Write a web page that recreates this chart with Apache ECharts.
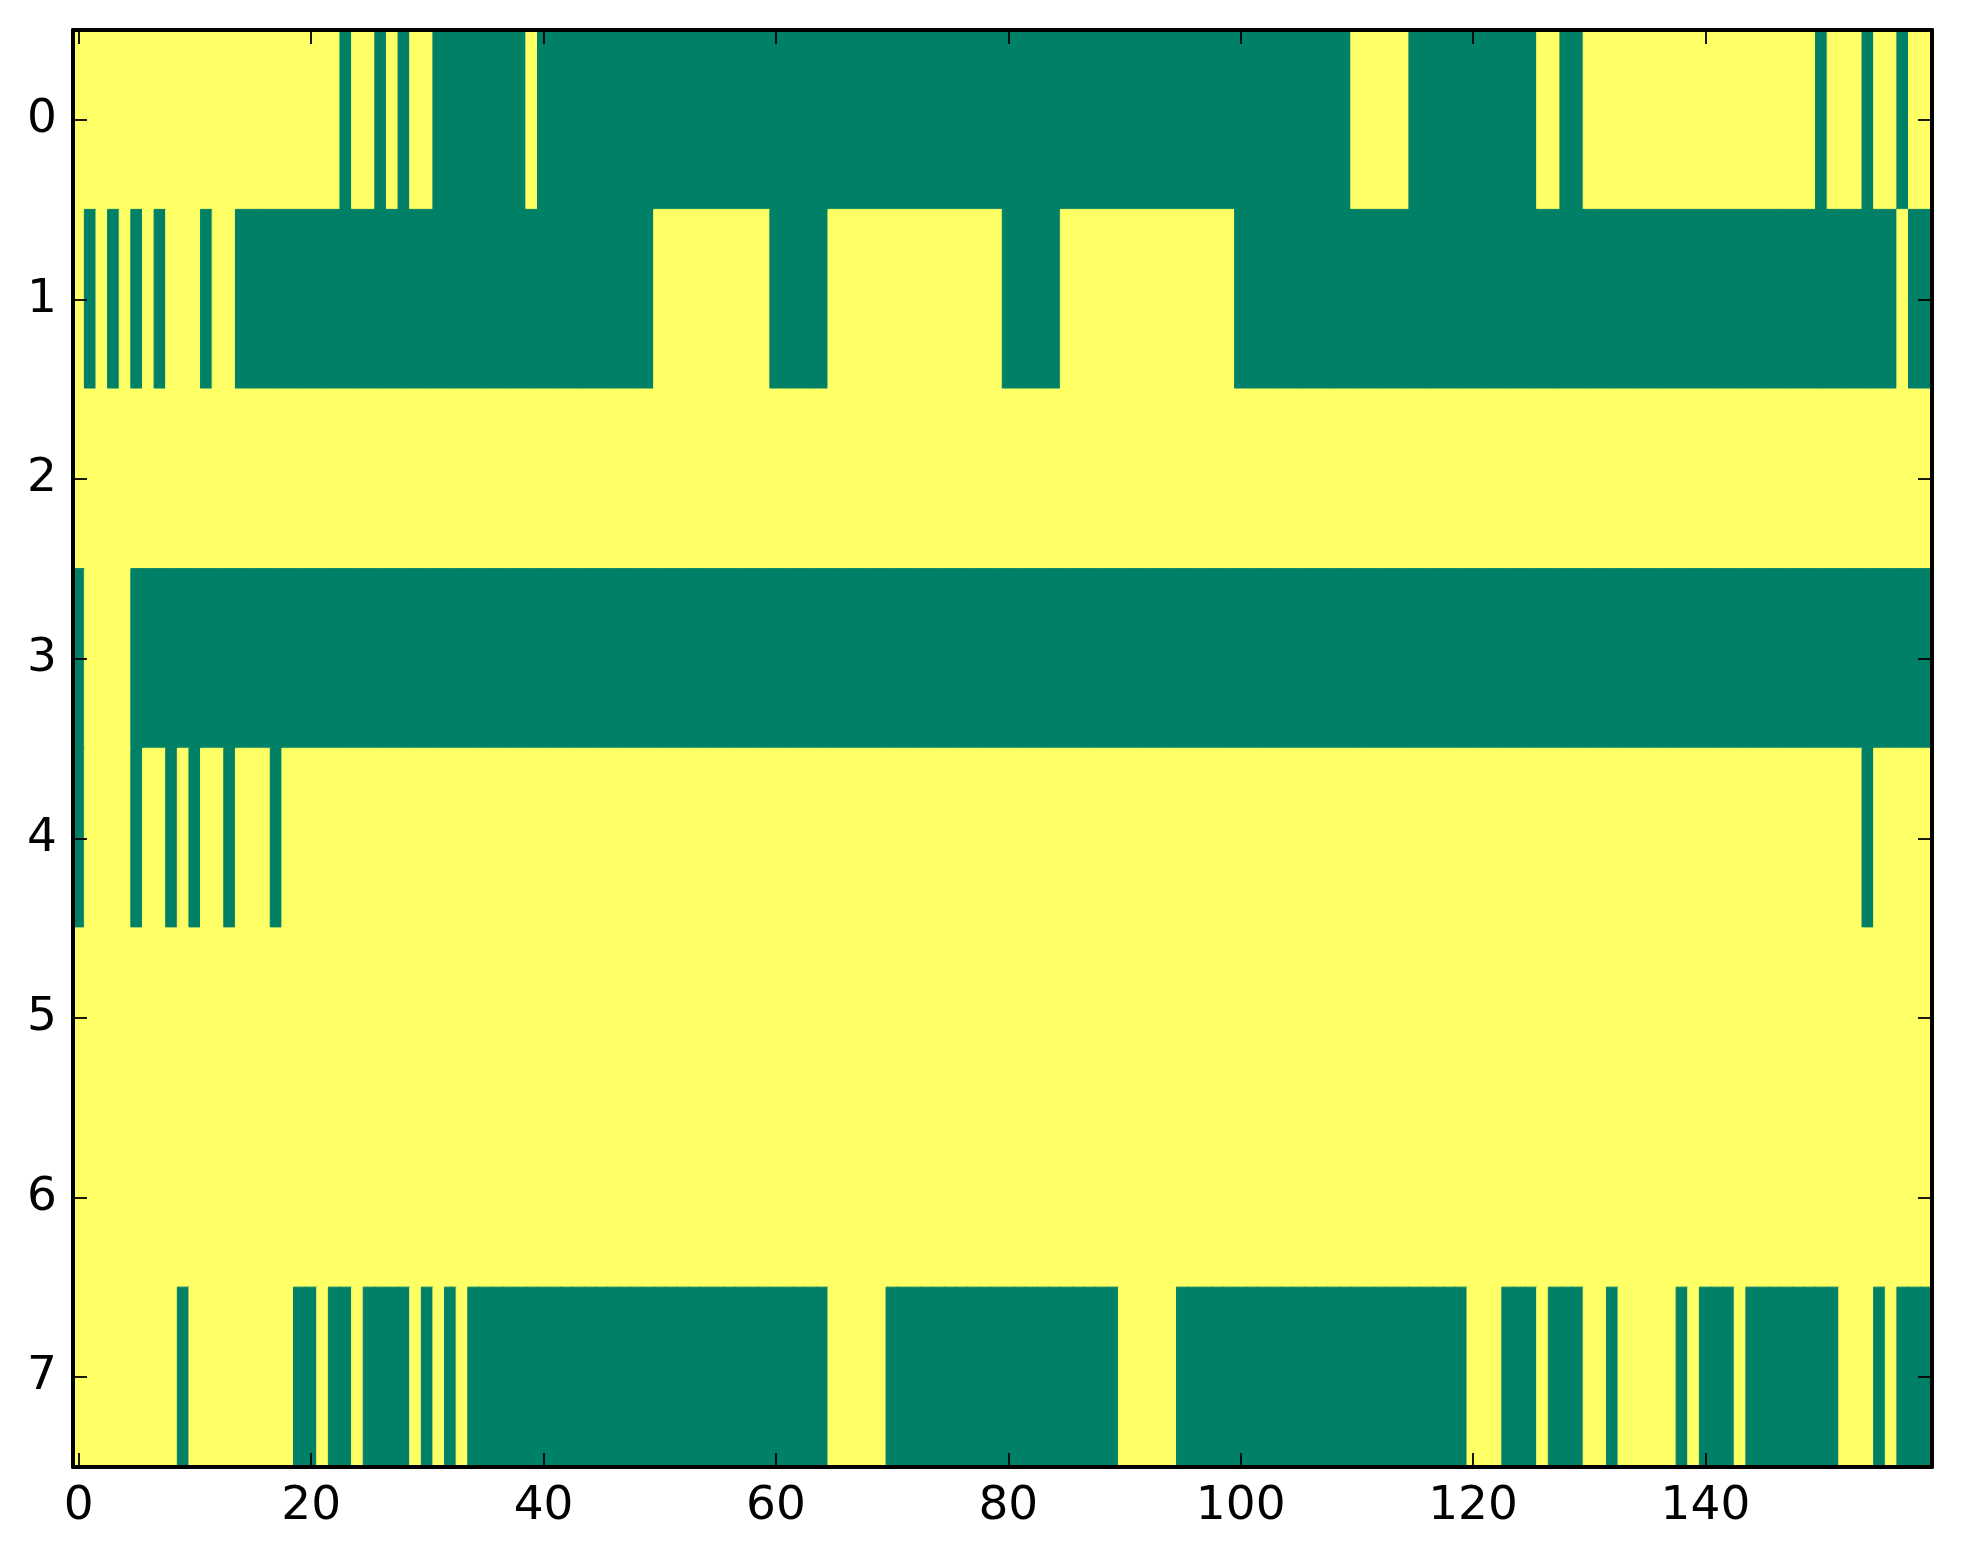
<!DOCTYPE html>
<html>
<head>
<meta charset="utf-8">
<script src="https://cdn.jsdelivr.net/npm/echarts@6/dist/echarts.min.js"></script>
<style>
html,body{margin:0;padding:0;background:#fff;}
#chart{width:1963px;height:1564px;}
</style>
</head>
<body>
<div id="chart"></div>
<script>
// Column categories 0..159 and row categories 0..7
const xCategories = Array.from({length:160}, (_, i) => String(i));
const yCategories = ['0','1','2','3','4','5','6','7'];
const xTickLabels = ['0','20','40','60','80','100','120','140'];

// Cell values per row: '1' = green (low), '0' = yellow (high)
// (groups of 10 columns separated by spaces)
const row0 = '0000000000 0000000000 0001001010 0111111110 1111111111 1111111111 1111111111 1111111111 1111111111 1111111111 1111111111 0000011111 1111110011 0000000000 0000000000 1000100100';
const row1 = '0101010100 0100111111 1111111111 1111111111 1111111111 0000000000 1111100000 0000000000 1111100000 0000000000 1111111111 1111111111 1111111111 1111111111 1111111111 1111111011';
const row2 = '0000000000 0000000000 0000000000 0000000000 0000000000 0000000000 0000000000 0000000000 0000000000 0000000000 0000000000 0000000000 0000000000 0000000000 0000000000 0000000000';
const row3 = '1000011111 1111111111 1111111111 1111111111 1111111111 1111111111 1111111111 1111111111 1111111111 1111111111 1111111111 1111111111 1111111111 1111111111 1111111111 1111111111';
const row4 = '1000010010 1001000100 0000000000 0000000000 0000000000 0000000000 0000000000 0000000000 0000000000 0000000000 0000000000 0000000000 0000000000 0000000000 0000000000 0000100000';
const row5 = '0000000000 0000000000 0000000000 0000000000 0000000000 0000000000 0000000000 0000000000 0000000000 0000000000 0000000000 0000000000 0000000000 0000000000 0000000000 0000000000';
const row6 = '0000000000 0000000000 0000000000 0000000000 0000000000 0000000000 0000000000 0000000000 0000000000 0000000000 0000000000 0000000000 0000000000 0000000000 0000000000 0000000000';
const row7 = '0000000001 0000000001 1011011110 1010111111 1111111111 1111111111 1111100000 1111111111 1111111111 0000011111 1111111111 1111111111 0001110111 0010000010 1110111111 1100010111';

const rows = [row0, row1, row2, row3, row4, row5, row6, row7];

const GREEN = '#008066';
const YELLOW = '#ffff66';

const data = [];
rows.forEach((r, yi) => {
  const s = r.replace(/\s+/g, '');
  for (let xi = 0; xi < s.length; xi++) {
    const green = s[xi] === '1';
    const c = green ? GREEN : YELLOW;
    data.push({
      value: [xi, yi, green ? 0 : 1],
      itemStyle: { color: c, borderColor: c, borderWidth: 1 }
    });
  }
});

const FONT = 'DejaVu Sans';
const FS = 47;
const tickShown = (idx) => xTickLabels.indexOf(String(idx)) >= 0;

const lineStyle = { color: '#000', width: 4 };
const tickStyle = { color: '#000', width: 1.8 };

const chart = echarts.init(document.getElementById('chart'), null, { renderer: 'canvas' });
chart.setOption({
  animation: false,
  backgroundColor: '#ffffff',
  grid: { left: 73, top: 30, width: 1859, height: 1437, containLabel: false },
  xAxis: [
    {
      type: 'category', data: xCategories, position: 'bottom', z: 10,
      axisLine: { show: true, lineStyle: lineStyle, onZero: false },
      axisTick: { show: true, inside: true, length: 14, alignWithLabel: true, interval: tickShown, lineStyle: tickStyle },
      axisLabel: { show: true, interval: tickShown, margin: 16, color: '#000', fontFamily: FONT, fontSize: FS },
      splitLine: { show: false }
    },
    {
      type: 'category', data: xCategories, position: 'top', z: 10,
      axisLine: { show: true, lineStyle: lineStyle, onZero: false },
      axisTick: { show: true, inside: true, length: 14, alignWithLabel: true, interval: tickShown, lineStyle: tickStyle },
      axisLabel: { show: false },
      splitLine: { show: false }
    }
  ],
  yAxis: [
    {
      type: 'category', data: yCategories, inverse: true, position: 'left', z: 10,
      axisLine: { show: true, lineStyle: lineStyle, onZero: false },
      axisTick: { show: true, inside: true, length: 14, alignWithLabel: true, interval: 0, lineStyle: tickStyle },
      axisLabel: { show: true, interval: 0, margin: 16, color: '#000', fontFamily: FONT, fontSize: FS },
      splitLine: { show: false }
    },
    {
      type: 'category', data: yCategories, inverse: true, position: 'right', z: 10,
      axisLine: { show: true, lineStyle: lineStyle, onZero: false },
      axisTick: { show: true, inside: true, length: 14, alignWithLabel: true, interval: 0, lineStyle: tickStyle },
      axisLabel: { show: false },
      splitLine: { show: false }
    }
  ],
  series: [{
    type: 'heatmap',
    xAxisIndex: 0,
    yAxisIndex: 0,
    data: data,
    progressive: 0,
    emphasis: { disabled: true }
  }]
});
</script>
</body>
</html>
